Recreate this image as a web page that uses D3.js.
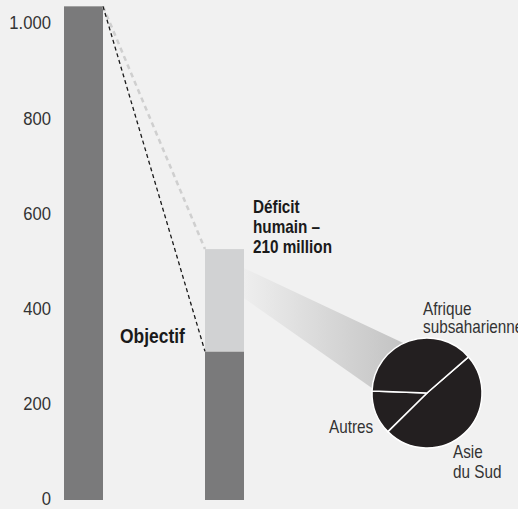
<!DOCTYPE html>
<html>
<head>
<meta charset="utf-8">
<script src="https://cdn.jsdelivr.net/npm/d3@7"></script>
<style>
  body { margin: 0; background: #f1f1f1; }
  svg { display: block; font-family: "Liberation Sans", Arial, sans-serif; }
</style>
</head>
<body>
<div class="chart"></div>
<script>
// bars: dark part and light part stacked on top
const barKeys = ["total", "cible"];
const barDark = [1035, 310];
const barLight = [0, 215];
const yTicks = [0, 200, 400, 600, 800, 1000];

// pie of the deficit, by region (shares in %)
const regions = ["Asie du Sud", "Autres", "Afrique subsaharienne"];
const shares = [49, 13, 38];

const width = 518;
const height = 509;
const narrow = 0.85; // condensed look, no narrow font installed

const svg = d3.select(".chart")
    .append("svg")
    .attr("width", width)
    .attr("height", height);

svg.append("rect")
    .attr("width", width)
    .attr("height", height)
    .attr("fill", "#f1f1f1");

const y = d3.scaleLinear()
    .domain([0, 1000])
    .range([499, 23]);

const x = d3.scalePoint()
    .domain(barKeys)
    .range([83.5, 224.5]);
const barW = 39;

const fr = d3.formatLocale({ decimal: ",", thousands: ".", grouping: [3] });

const yAxis = d3.axisLeft(y)
    .tickValues(yTicks)
    .tickSize(0)
    .tickPadding(0)
    .tickFormat(fr.format(","));

svg.append("g")
    .attr("transform", `translate(51,0)`)
    .call(yAxis)
    .call(g => g.select(".domain").remove())
    .selectAll(".tick text")
    .attr("font-family", null)
    .attr("font-size", 18.5)
    .attr("transform", `scale(0.9,1)`)
    .attr("fill", "#333333");

// gradient wedge from the light bar to the pie
const pieCx = 427, pieCy = 393, pieR = 55;
const grad = svg.append("defs").append("linearGradient")
    .attr("id", "wedge")
    .attr("gradientUnits", "userSpaceOnUse")
    .attr("x1", x("cible") + barW / 2).attr("x2", 400)
    .attr("y1", 0).attr("y2", 0);
grad.append("stop").attr("offset", 0).attr("stop-color", "#eeeeee");
grad.append("stop").attr("offset", 1).attr("stop-color", "#c4c4c4");

const onPie = deg => {
    const a = deg * Math.PI / 180;
    return [pieCx + pieR * Math.sin(a), pieCy - pieR * Math.cos(a)];
};
const bx = x("cible") + barW / 2;
svg.append("path")
    .attr("d", d3.line()([[bx, y(485)], onPie(335), [pieCx, pieCy], onPie(275), [bx, y(422)]]) + "Z")
    .attr("fill", "url(#wedge)");

// bars
svg.append("g")
    .selectAll("rect")
    .data(barKeys)
    .join("rect")
    .attr("x", d => x(d) - barW / 2)
    .attr("y", (d, i) => y(barDark[i]))
    .attr("width", barW)
    .attr("height", (d, i) => y(0) - y(barDark[i]) + 1)
    .attr("fill", "#7a7a7b");

svg.append("g")
    .selectAll("rect")
    .data(barKeys.filter((d, i) => barLight[i] > 0))
    .join("rect")
    .attr("x", d => x(d) - barW / 2)
    .attr("y", d => { const i = barKeys.indexOf(d); return y(barDark[i] + barLight[i]) })
    .attr("width", barW)
    .attr("height", d => { const i = barKeys.indexOf(d); return y(barDark[i]) - y(barDark[i] + barLight[i]) })
    .attr("fill", "#d1d2d3");

// dashed guide lines
const x0 = x("total") + barW / 2;
const x1 = x("cible") - barW / 2;
svg.append("line")
    .attr("x1", x0).attr("y1", y(barDark[0]))
    .attr("x2", x1).attr("y2", y(barDark[1] + barLight[1]))
    .attr("stroke", "#cfcfcf")
    .attr("stroke-width", 2.5)
    .attr("stroke-dasharray", "5,4");
svg.append("line")
    .attr("x1", x0).attr("y1", y(barDark[0]))
    .attr("x2", x1).attr("y2", y(barDark[1]))
    .attr("stroke", "#1a1a1a")
    .attr("stroke-width", 1.3)
    .attr("stroke-dasharray", "4,3");

// pie
const pie = d3.pie()
    .sort(null)
    .startAngle(49 * Math.PI / 180)
    .endAngle((49 + 360) * Math.PI / 180);
const arc = d3.arc().innerRadius(0).outerRadius(pieR);

svg.append("g")
    .attr("transform", `translate(${pieCx},${pieCy})`)
    .selectAll("path")
    .data(pie(shares))
    .join("path")
    .attr("d", arc)
    .attr("fill", "#231f20")
    .attr("stroke", "#ffffff")
    .attr("stroke-width", 1.5)
    .attr("stroke-linejoin", "round");

// labels
const labels = [
    { t: ["Déficit", "humain –", "210 million"], x: 253, y: 213, size: 18, bold: true, lh: 20 },
    { t: ["Objectif"], x: 120, y: 343, size: 20.5, bold: true },
    { t: ["Afrique", "subsaharienne"], x: 423, y: 315, size: 18, bold: false, lh: 18 },
    { t: ["Autres"], x: 329, y: 433, size: 18, bold: false },
    { t: ["Asie", "du Sud"], x: 453, y: 458, size: 18, bold: false, lh: 20 }
];

labels.forEach(l => {
    const txt = svg.append("text")
        .attr("transform", `translate(${l.x},${l.y}) scale(${narrow},1)`)
        .attr("font-size", l.size)
        .attr("font-weight", l.bold ? "bold" : "normal")
        .attr("fill", l.bold ? "#1a1a1a" : "#333333");
    txt.selectAll("tspan")
        .data(l.t)
        .join("tspan")
        .attr("x", 0)
        .attr("dy", (d, i) => i === 0 ? 0 : (l.lh || 20))
        .text(d => d);
});
</script>
</body>
</html>
